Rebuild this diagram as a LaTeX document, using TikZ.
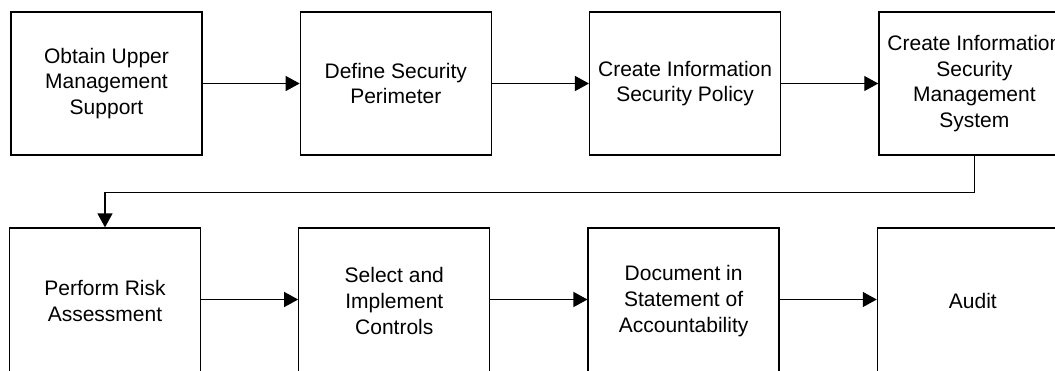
\documentclass[tikz,border=0pt]{standalone}
\usepackage{fontspec}
\setmainfont{Liberation Sans}
\usetikzlibrary{arrows.meta,positioning,calc}
\tikzset{
  flowbox/.style={draw=black, line width=1.3pt, fill=white, align=center,
    minimum width=191pt, minimum height=#1, inner sep=2pt,
    font=\fontsize{21pt}{25.7pt}\selectfont},
  flowbox/.default=143pt,
  flowarr/.style={-{Triangle[length=14pt, width=15pt]}, line width=1.3pt, black},
}
\begin{document}
\begin{tikzpicture}[x=1pt, y=-1pt]
    \useasboundingbox (0,0) rectangle (1055,370);
    \clip (0,0) rectangle (1055,370);

    % first row
    \node[flowbox] (support) at (106.5,83.5) {Obtain Upper\\ Management\\ Support};
    \node[flowbox, right=97pt of support] (perimeter) {Define Security\\ Perimeter};
    \node[flowbox, right=97pt of perimeter] (policy) {Create Information\\ Security Policy};
    \node[flowbox, right=97pt of policy] (isms) {Create Information\\ Security\\ Management\\ System};
    \draw[flowarr] (support) -- (perimeter);
    \draw[flowarr] (perimeter) -- (policy);
    \draw[flowarr] (policy) -- (isms);

    % second row (runs off the bottom edge)
    \node[flowbox=146pt] (risk) at (105,301) {Perform Risk\\ Assessment};
    \node[flowbox=146pt, right=97pt of risk] (controls) {Select and\\ Implement\\ Controls};
    \node[flowbox=146pt, right=97pt of controls] (statement) {Document in\\ Statement of\\ Accountability};
    \node[flowbox=146pt, right=97pt of statement] (audit) {Audit};
    \draw[flowarr] (risk.east |- 0,299.5) -- (controls.west |- 0,299.5);
    \draw[flowarr] (controls.east |- 0,299.5) -- (statement.west |- 0,299.5);
    \draw[flowarr] (statement.east |- 0,299.5) -- (audit.west |- 0,299.5);

    \draw[flowarr] (isms.south) -- ++(0,36.5) -| (risk.north);
\end{tikzpicture}
\end{document}
